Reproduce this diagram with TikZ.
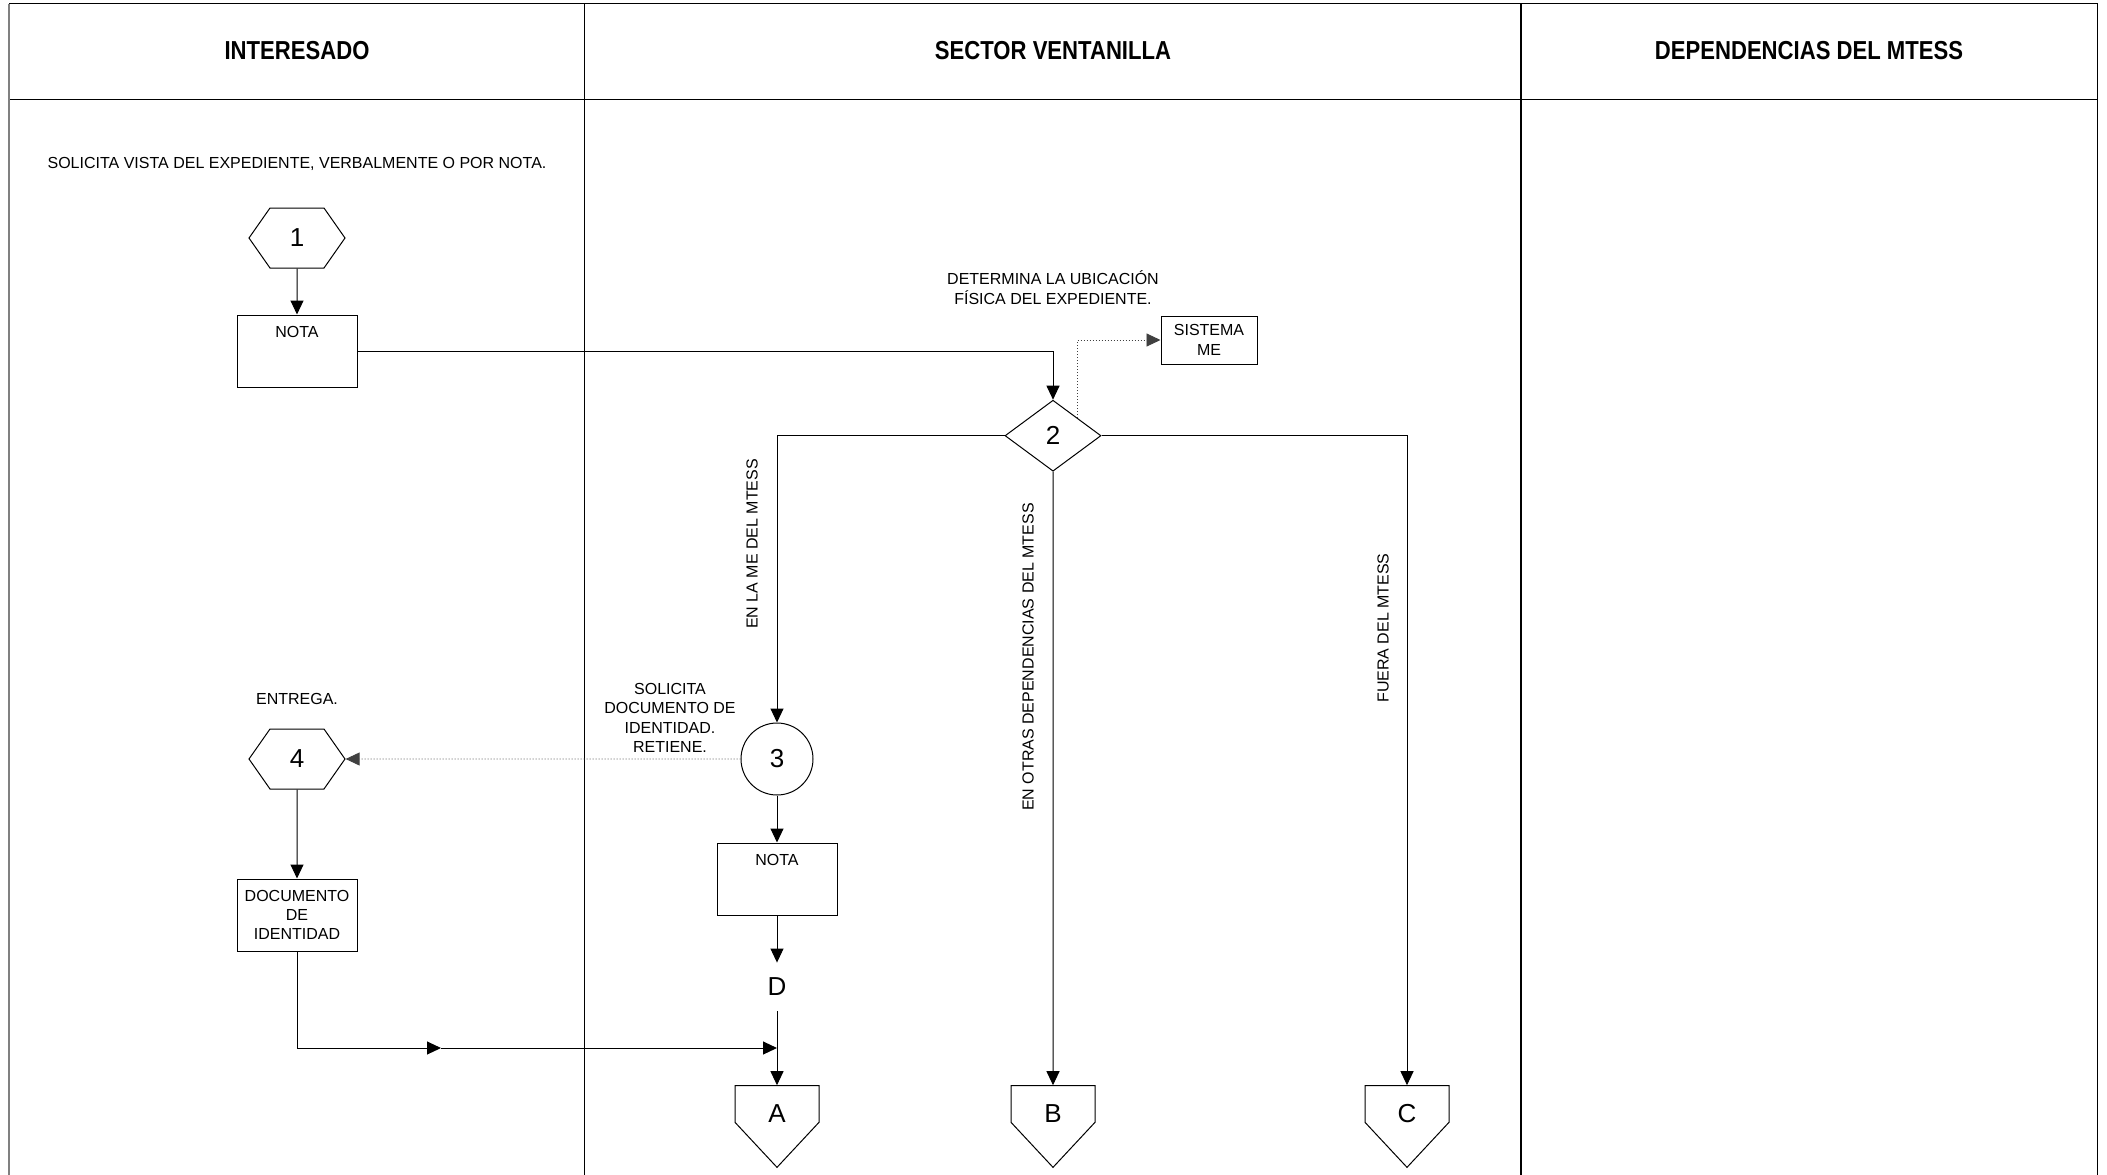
\documentclass[tikz,border=0pt]{standalone}
\usepackage{fontspec}
\setmainfont{Liberation Sans}
\newfontfamily\lanefont[FakeStretch=0.85]{Liberation Sans}
\usetikzlibrary{arrows.meta, positioning, shapes.geometric, shapes.symbols}

\begin{document}
\begin{tikzpicture}[x=1pt,y=-1pt,on grid,line width=1pt,>={Triangle[length=14pt,width=13pt]},
        every node/.style={font=\fontsize{16}{19.3}\selectfont},
        lane/.style={font=\lanefont\fontsize{26}{30}\selectfont\bfseries},
        hexa/.style={draw,signal,signal to=east and west,signal pointer angle=110,
            minimum width=96pt,minimum height=60pt,inner sep=0pt,font=\fontsize{26}{30}\selectfont},
        decision/.style={draw,diamond,minimum width=96pt,minimum height=71pt,inner sep=0pt,
            font=\fontsize{26}{30}\selectfont},
        oper/.style={draw,circle,minimum size=72pt,inner sep=0pt,font=\fontsize{26}{30}\selectfont},
        docbox/.style={draw,rectangle,minimum width=120pt,minimum height=72pt,inner sep=2pt,align=center},
        notebox/.style={docbox,text height=11.5pt,text depth=38.5pt,inner ysep=11pt},
        offpage/.style={draw,signal,signal to=south,signal pointer angle=86,
            minimum width=84pt,minimum height=42pt,inner sep=0pt,text height=36.6pt,text depth=0pt,
            font=\fontsize{26}{30}\selectfont},
        link/.style={inner sep=15pt,font=\fontsize{26}{30}\selectfont},
        note/.style={align=center},
        side/.style={rotate=90},
        aux/.style={->,dash pattern=on 1pt off 2pt,line width=0.9pt,draw=black!75}]

    \useasboundingbox (0,0) rectangle (2107,1175);

    \draw[line width=1.4pt] (9,3.5) -- (2098,3.5) (9,99.3) -- (2098,99.3);
    \draw[line width=2.5pt,black!50] (9,3.5) -- (9,1175);
    \draw[line width=1.4pt] (584.5,3.5) -- (584.5,1175) (1521,3.5) -- (1521,1175) (2097.7,3.5) -- (2097.7,1175);

    \node[lane] (hInt) at (297,51)  {INTERESADO};
    \node[lane] (hVen) at (1053,51) {SECTOR VENTANILLA};
    \node[lane] (hDep) at (1809,51) {DEPENDENCIAS DEL MTESS};

    \node (tSolicita) at (297,164) {SOLICITA VISTA DEL EXPEDIENTE, VERBALMENTE O POR NOTA.};
    \node[hexa]    (p1)    at (297,238)           {1};
    \node[notebox] (nota1) [below=113pt of p1]     {NOTA};

    \node[note]     (tDetermina) at (1053,287.5) {DETERMINA LA UBICACIÓN\\FÍSICA DEL EXPEDIENTE.};
    \node[decision] (p2)  at (1053,435.7)        {2};
    \node[docbox,minimum width=96pt,minimum height=48pt] (sis) at (1209,340) {SISTEMA\\ME};

    \node[side] (tME)    at (752,544)  {EN LA ME DEL MTESS};
    \node[side] (tOtras) at (1028,657) {EN OTRAS DEPENDENCIAS DEL MTESS};
    \node[side] (tFuera) at (1383,628) {FUERA DEL MTESS};

    \node[note]    (tRetiene) at (670,718) {SOLICITA\\DOCUMENTO DE\\IDENTIDAD.\\RETIENE.};
    \node[oper]    (p3)    at (777,759)           {3};
    \node[notebox] (nota2) [below=120pt of p3]    {NOTA};
    \node[link]    (cD)    [below=108pt of nota2] {D};

    \node          (tEntrega) at (297,699)         {ENTREGA.};
    \node[hexa]    (p4)    at (297,759)            {4};
    \node[docbox]  (docid) [below=156pt of p4]     {DOCUMENTO\\DE\\IDENTIDAD};

    \node[offpage] (offA) at (777,1104)  {A};
    \node[offpage] (offB) [right=276pt of offA] {B};
    \node[offpage] (offC) [right=354pt of offB] {C};

    \coordinate (midarr) at (441,1048);
    \coordinate (join)   at (777,1048);

    \path[->] (p1) edge (nota1)
              (p3) edge (nota2)
              (nota2) edge (cD)
              (cD) edge (offA)
              (p2) edge (offB)
              (p4) edge (docid);
    \draw[->] (nota1) -| (p2);
    \draw[->] (p2) -| (p3);
    \draw[->] (p2) -| (offC);
    \draw[->] (docid) |- (midarr);
    \draw[->] (midarr) -- (join);
    \draw[aux] (p2.north east) |- (sis);
    \draw[aux] (p3) -- (p4);
\end{tikzpicture}
\end{document}
